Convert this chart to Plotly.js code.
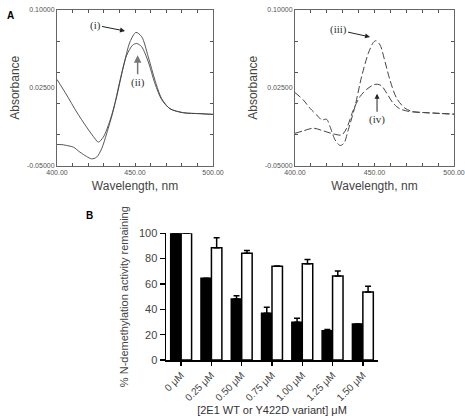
<!DOCTYPE html>
<html><head><meta charset="utf-8">
<script src="https://cdn.plot.ly/plotly-3.0.1.min.js"></script>
<style>html,body{margin:0;padding:0;background:#fff}#g{width:465px;height:416px}</style>
</head><body><div id="g"></div>
<script>
// Panel A left: solid spectra
const wlI  = [400, 406.2, 412.6, 419.0, 424.4, 426.5, 429.7, 434.0, 438.2, 442.5, 446.8, 450.6, 454.3, 458.5, 462.8, 467.1, 472.4, 481.0, 491.7, 500];
const absI = [0.033, 0.018, 0.0016, -0.013, -0.0242, -0.0275, -0.0226, -0.0065, 0.016, 0.045, 0.0693, 0.0784, 0.0742, 0.0548, 0.0322, 0.0145, 0.0048, 0.0009, 0.0, -0.0007];
const wlII  = [400, 404, 406.2, 410.5, 414.7, 419.0, 422.2, 425.4, 428.6, 431.8, 436.1, 440.4, 444.7, 448.5, 451.1, 454.3, 458.5, 462.8, 467.1, 472.4, 481.0, 491.7, 500];
const absII = [-0.0297, -0.0300, -0.0307, -0.0323, -0.0371, -0.0413, -0.0436, -0.042, -0.0339, -0.0194, 0.0032, 0.0322, 0.0564, 0.0661, 0.0677, 0.0645, 0.050, 0.029, 0.0135, 0.0048, 0.0009, 0.0, -0.0007];
// Panel A right: dashed spectra
const wlIII  = [400, 405.2, 409.4, 413.6, 416.8, 419.9, 422.0, 425.2, 428.3, 430.8, 433.5, 437.7, 441.9, 446.1, 449.3, 450.9, 453.5, 456.6, 459.7, 463.9, 469.2, 474.4, 480.7, 489.1, 500];
const absIII = [0.0203, 0.0133, 0.0052, -0.0012, -0.006, -0.0054, -0.0124, -0.0253, -0.0307, -0.0285, -0.0156, 0.0068, 0.0358, 0.0582, 0.0688, 0.0704, 0.0663, 0.0502, 0.0325, 0.0149, 0.0052, 0.002, 0.0011, 0.0004, -0.0005];
const wlIV  = [400, 405.2, 411.5, 417.8, 424.1, 429.4, 432.5, 436.7, 440.9, 445.1, 449.3, 451.8, 454.5, 457.7, 461.8, 466.0, 472.3, 480.7, 489.1, 500];
const absIV = [-0.0189, -0.0166, -0.014, -0.0166, -0.0195, -0.0205, -0.014, 0.0036, 0.0165, 0.0235, 0.0277, 0.0284, 0.0268, 0.0197, 0.010, 0.0046, 0.002, 0.0011, 0.0004, -0.0005];
// Panel B: bars
const conc = ['0 μM', '0.25 μM', '0.50 μM', '0.75 μM', '1.00 μM', '1.25 μM', '1.50 μM'];
const blackVals = [100, 64.5, 48.1, 36.8, 29.7, 23.1, 28.4];
const blackErr  = [0, 0, 2.6, 4.8, 3.2, 1.0, 0];
const whiteVals = [100, 88.6, 84.2, 73.9, 76.0, 66.3, 53.7];
const whiteErr  = [0, 7.9, 2.3, 0.3, 3.4, 3.9, 4.5];
const absTickVals = [-0.05, 0.025, 0.1];
const absTickText = ['-0.05000', '0.02500', '0.10000'];
const wlTickVals = [400, 450, 500];
const wlTickText = ['400.00', '450.00', '500.00'];

const FONT = 'Liberation Sans, Arial, sans-serif';
const SERIF = 'Liberation Serif, Times New Roman, serif';
const zeros = conc.map(() => 0);

const traces = [
  {x: wlI, y: absI, xaxis: 'x', yaxis: 'y', mode: 'lines', line: {color: '#444', width: 0.9, shape: 'spline', smoothing: 0.8}},
  {x: wlII, y: absII, xaxis: 'x', yaxis: 'y', mode: 'lines', line: {color: '#444', width: 0.9, shape: 'spline', smoothing: 0.8}},
  {x: wlIII, y: absIII, xaxis: 'x2', yaxis: 'y2', mode: 'lines', line: {color: '#444', width: 1, dash: '7px,3px', shape: 'spline', smoothing: 0.8}},
  {x: wlIV, y: absIV, xaxis: 'x2', yaxis: 'y2', mode: 'lines', line: {color: '#444', width: 1, dash: '7px,3px', shape: 'spline', smoothing: 0.8}},
  {type: 'bar', x: conc, y: blackVals, xaxis: 'x3', yaxis: 'y3', marker: {color: '#000', line: {color: '#000', width: 1.5}},
   error_y: {type: 'data', array: blackErr, arrayminus: zeros, symmetric: false, color: '#000', thickness: 1.5, width: 3}},
  {type: 'bar', x: conc, y: whiteVals, xaxis: 'x3', yaxis: 'y3', marker: {color: '#fff', line: {color: '#000', width: 1.5}},
   error_y: {type: 'data', array: whiteErr, arrayminus: zeros, symmetric: false, color: '#000', thickness: 1.5, width: 3}}
];

function specX(domain) {
  return {domain: domain, range: [400, 500], tickmode: 'array', tickvals: wlTickVals, ticktext: wlTickText,
    ticks: 'inside', ticklen: 3, tickcolor: '#555', mirror: 'allticks', showline: true, linecolor: '#666', linewidth: 1,
    showgrid: false, zeroline: false, tickfont: {family: FONT, size: 7, color: '#555'},
    minor: {tickmode: 'linear', tick0: 400, dtick: 10, ticks: 'inside', ticklen: 3, tickcolor: '#555'},
    title: {text: 'Wavelength, nm', font: {family: FONT, size: 12, color: '#444'}, standoff: 6}};
}
function specY(domain, anchor) {
  return {domain: domain, anchor: anchor, range: [-0.05, 0.1], tickmode: 'array', tickvals: absTickVals, ticktext: absTickText,
    ticks: 'inside', ticklen: 0, mirror: 'allticks', showline: true, linecolor: '#666', linewidth: 1,
    showgrid: false, zeroline: false, tickfont: {family: FONT, size: 7, color: '#555'},
    minor: {tickmode: 'linear', tick0: -0.05, dtick: 0.03, ticks: 'inside', ticklen: 3, tickcolor: '#555'},
    title: {text: 'Absorbance', font: {family: FONT, size: 12, color: '#444'}, standoff: 4}};
}

const yDomA = [1 - 165.5 / 416, 1 - 10 / 416];
const layout = {
  width: 465, height: 416, margin: {l: 0, r: 0, t: 0, b: 0}, paper_bgcolor: '#fff', plot_bgcolor: 'rgba(0,0,0,0)',
  showlegend: false, font: {family: FONT},
  xaxis: Object.assign(specX([57 / 465, 213 / 465]), {anchor: 'y'}),
  yaxis: specY(yDomA, 'x'),
  xaxis2: Object.assign(specX([295 / 465, 454 / 465]), {anchor: 'y2'}),
  yaxis2: specY(yDomA, 'x2'),
  xaxis3: {domain: [166 / 465, 378 / 465], anchor: 'y3', range: [-0.5, 6.5], showline: true, linecolor: '#000', linewidth: 1.5,
    ticks: 'outside', ticklen: 4, tickcolor: '#000', tickwidth: 1.5, tickangle: -45, showgrid: false, zeroline: false,
    tickfont: {family: FONT, size: 10, color: '#444'},
    title: {text: '[2E1 WT or Y422D variant] μM', font: {family: FONT, size: 11, color: '#333'}, standoff: 4}},
  yaxis3: {domain: [1 - 360 / 416, 1 - 233.3 / 416], anchor: 'x3', range: [0, 100], tickvals: [0, 20, 40, 60, 80, 100],
    showline: true, linecolor: '#000', linewidth: 1.5, ticks: 'outside', ticklen: 5, tickcolor: '#000', tickwidth: 1.5,
    showgrid: false, zeroline: false, tickfont: {family: FONT, size: 11, color: '#444'},
    title: {text: '% N-demethylation activity remaining', font: {family: FONT, size: 11, color: '#444'}, standoff: 8}},
  bargap: 0.31, bargroupgap: 0, barmode: 'group',
  annotations: [
    {xref: 'paper', yref: 'paper', x: 5 / 465, y: 1 - 8 / 416, text: '<b>A</b>', showarrow: false, font: {family: FONT, size: 10, color: '#000'}},
    {xref: 'paper', yref: 'paper', x: 84 / 465, y: 1 - 215 / 416, text: '<b>B</b>', showarrow: false, font: {family: FONT, size: 10, color: '#000'}},
    {xref: 'x', yref: 'y', x: 443.6, y: 0.0797, text: '(i)', ax: -30, ay: -6, showarrow: true, arrowhead: 2, arrowsize: 1, arrowwidth: 1, arrowcolor: '#222', font: {family: SERIF, size: 11, color: '#333'}},
    {xref: 'x', yref: 'y', x: 451.7, y: 0.0564, text: '(ii)', ax: 0, ay: 27, showarrow: true, arrowhead: 2, arrowsize: 1, arrowwidth: 1.5, arrowcolor: '#777', font: {family: SERIF, size: 11, color: '#333'}},
    {xref: 'x2', yref: 'y2', x: 447.2, y: 0.074, text: '(iii)', ax: -32, ay: -7, showarrow: true, arrowhead: 2, arrowsize: 1, arrowwidth: 1, arrowcolor: '#222', font: {family: SERIF, size: 11, color: '#333'}},
    {xref: 'x2', yref: 'y2', x: 451.6, y: 0.0192, text: '(iv)', ax: 0, ay: 26, showarrow: true, arrowhead: 2, arrowsize: 1, arrowwidth: 1, arrowcolor: '#222', font: {family: SERIF, size: 11, color: '#333'}}
  ]
};
Plotly.newPlot('g', traces, layout, {staticPlot: true, displayModeBar: false});
</script></body></html>
